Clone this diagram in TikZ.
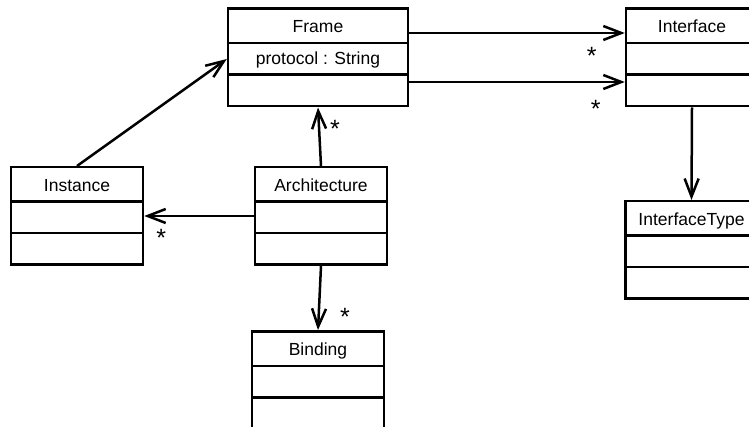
\documentclass[tikz,border=0pt]{standalone}
\usepackage{fontspec}
\setmainfont{Liberation Sans}
\usetikzlibrary{shapes.multipart,arrows.meta}

% struts for the three compartments of a class box
\newcommand{\toprow}{\rule[-9pt]{0pt}{32pt}}
\newcommand{\midrow}{\rule[-9pt]{0pt}{29pt}}

\begin{document}
\begin{tikzpicture}[
        x=1pt, y=-1pt,
        every node/.style={font=\fontsize{17.5pt}{20pt}\selectfont},
        umlclass/.style={rectangle split, rectangle split parts=3, draw=black, line width=2.5pt, minimum width=132pt, inner xsep=4pt, inner ysep=0pt},
        assoc/.style={-{Straight Barb[length=18pt,width=14pt]}, line width=2.5pt, draw=black},
        mult/.style={inner sep=0pt, font=\fontsize{25pt}{25pt}\selectfont}
        ]
        \path[use as bounding box, clip] (0, 0) rectangle (749, 427);

        % Classes
        \node[umlclass, minimum width=180pt] (frame) at (318, 57.5) {\toprow Frame \nodepart{two}\midrow protocol : String \nodepart{three}\midrow};
        \node[umlclass] (iface) at (692, 57.5) {\toprow Interface \nodepart{two}\midrow \nodepart{three}\midrow};
        \node[umlclass] (itype) at (691.5, 250) {\toprow InterfaceType \nodepart{two}\midrow \nodepart{three}\midrow};
        \node[umlclass] (inst) at (77, 216) {\toprow Instance \nodepart{two}\midrow \nodepart{three}\midrow};
        \node[umlclass] (arch) at (321, 216) {\toprow Architecture \nodepart{two}\midrow \nodepart{three}\midrow};
        \node[umlclass] (bind) at (318, 380) {\toprow Binding \nodepart{two}\midrow \nodepart{three}\midrow};

        % Associations
        \draw[assoc] (inst.north) -- (frame.two west);
        \draw[assoc] ([yshift=24.5pt]frame.east) -- ([yshift=24.5pt]iface.west) node[mult, xshift=-33pt, yshift=-23pt] {*};
        \draw[assoc] ([yshift=-24.5pt]frame.east) -- ([yshift=-24.5pt]iface.west) node[mult, xshift=-29pt, yshift=-27pt] {*};
        \draw[assoc] (iface.south) -- (itype.north);
        \draw[assoc] (arch.north) -- (frame.south) node[mult, xshift=17pt, yshift=-21pt] {*};
        \draw[assoc] (arch.west) -- (inst.east) node[mult, xshift=17pt, yshift=-22pt] {*};
        \draw[assoc] (arch.south) -- (bind.north) node[mult, xshift=27pt, yshift=13pt] {*};

    \end{tikzpicture}
\end{document}
